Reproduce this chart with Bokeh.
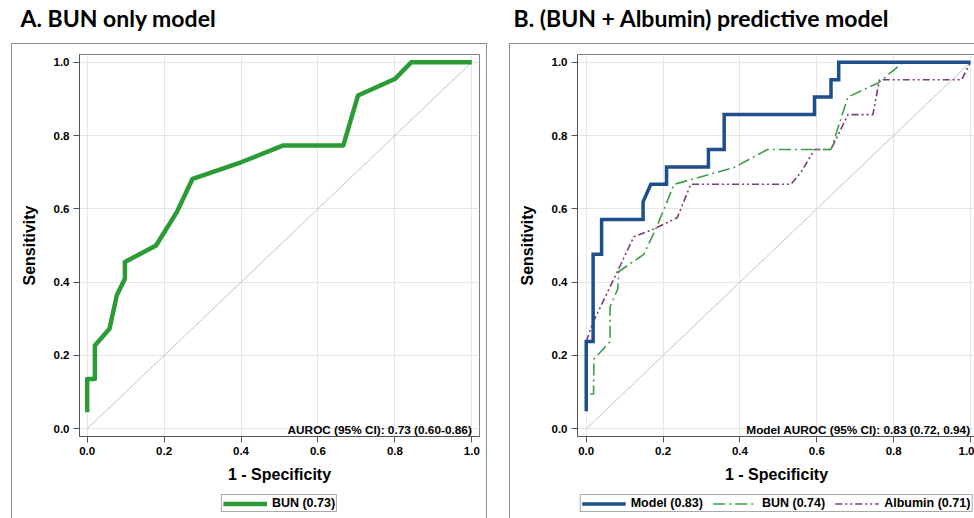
from bokeh.plotting import figure
from bokeh.models import Range1d, FixedTicker, PrintfTickFormatter, Label, Legend, LegendItem, Title
from bokeh.layouts import row, column
from bokeh.embed import file_html
from bokeh.resources import INLINE

# ---------------- data ----------------
title_a = "A. BUN only model"
title_b = "B. (BUN + Albumin) predictive model"
x_label = "1 - Specificity"
y_label = "Sensitivity"
ticks = [0.0, 0.2, 0.4, 0.6, 0.8, 1.0]
diag = [0.0, 1.0]

auroc_a = "AUROC (95% CI): 0.73 (0.60-0.86)"
auroc_b = "Model AUROC (95% CI): 0.83 (0.72, 0.94)"
legend_a = ["BUN (0.73)"]
legend_b = ["Model (0.83)", "BUN (0.74)", "Albumin (0.71)"]

# Panel A: BUN only
bun_a_fpr = [0.0, 0.0, 0.02, 0.02, 0.058, 0.077, 0.098, 0.098, 0.179, 0.233, 0.274,
             0.40, 0.51, 0.666, 0.704, 0.801, 0.843, 1.0]
bun_a_tpr = [0.045, 0.136, 0.136, 0.227, 0.273, 0.364, 0.409, 0.455, 0.50, 0.591, 0.682,
             0.727, 0.773, 0.773, 0.909, 0.955, 1.0, 1.0]

# Panel B: Model
model_fpr = [0.0, 0.0, 0.018, 0.018, 0.04, 0.04, 0.148, 0.148, 0.168, 0.209, 0.209,
             0.318, 0.318, 0.359, 0.359, 0.594, 0.594, 0.637, 0.637, 0.657, 0.657, 1.0]
model_tpr = [0.048, 0.238, 0.238, 0.476, 0.476, 0.571, 0.571, 0.619, 0.667, 0.667, 0.714,
             0.714, 0.762, 0.762, 0.857, 0.857, 0.905, 0.905, 0.952, 0.952, 1.0, 1.0]

# Panel B: BUN
bun_b_fpr = [0.01, 0.019, 0.02, 0.062, 0.062, 0.082, 0.085, 0.15, 0.181, 0.229, 0.385,
             0.472, 0.637, 0.681, 0.761, 0.825, 1.0]
bun_b_tpr = [0.095, 0.095, 0.19, 0.238, 0.333, 0.381, 0.429, 0.476, 0.545, 0.667, 0.713,
             0.762, 0.762, 0.905, 0.944, 1.0, 1.0]

# Panel B: Albumin
alb_fpr = [0.0, 0.016, 0.085, 0.124, 0.176, 0.237, 0.272, 0.533, 0.559, 0.594, 0.637,
           0.681, 0.746, 0.763, 0.977, 1.0]
alb_tpr = [0.238, 0.286, 0.438, 0.524, 0.545, 0.576, 0.667, 0.667, 0.70, 0.762, 0.762,
           0.857, 0.857, 0.952, 0.952, 1.0]

FONT = "Liberation Sans"
BORDER = "1px solid #8c8c8c"
NOBORDER = "1px solid rgba(0,0,0,0)"

STY_A = dict(line_color="#2a9b35", line_width=4.5, line_join="round")
STY_MOD = dict(line_color="#1f4e8c", line_width=3.5, line_join="miter")
STY_BUN = dict(line_color="#3aa048", line_width=1.6, line_dash="12 4 2 4")
STY_ALB = dict(line_color="#7b3b7b", line_width=1.6, line_dash="7 3 2 3 2 3")


def title_fig(text, fw, mb_left, mb_right, offset, margin, styles):
    p = figure(frame_width=fw, frame_height=12,
               x_range=Range1d(0, 1), y_range=Range1d(0, 1),
               x_axis_type=None, y_axis_type=None, toolbar_location=None,
               output_backend="svg", min_border_left=mb_left, min_border_right=mb_right,
               min_border_top=31, min_border_bottom=0, outline_line_color=None)
    p.title = Title(text=text, text_font="Lato", text_font_style="bold",
                    text_font_size="23px", text_color="#000000",
                    align="left", offset=offset, standoff=0, vertical_align="bottom")
    p.margin = margin
    p.styles = styles
    return p


def roc_fig(xr, fw, mb_left, mb_right, margin, styles):
    p = figure(frame_width=fw, frame_height=381,
               x_range=Range1d(*xr), y_range=Range1d(-0.021, 1.021),
               toolbar_location=None, output_backend="svg",
               min_border_left=mb_left, min_border_right=mb_right,
               min_border_top=10, min_border_bottom=55,
               outline_line_color="#808080", outline_line_width=1)
    p.xaxis.axis_label = x_label
    p.yaxis.axis_label = y_label
    for ax in p.axis:
        ax.ticker = FixedTicker(ticks=ticks)
        ax.formatter = PrintfTickFormatter(format="%.1f")
        ax.major_label_text_font = FONT
        ax.major_label_text_font_size = "11.5px"
        ax.major_label_text_font_style = "bold"
        ax.major_label_text_color = "#000000"
        ax.major_label_standoff = 4
        ax.major_tick_out = 6
        ax.major_tick_in = 0
        ax.minor_tick_out = 0
        ax.minor_tick_in = 0
        ax.axis_line_color = "#555555"
        ax.major_tick_line_color = "#555555"
        ax.axis_label_text_font = FONT
        ax.axis_label_text_font_size = "16px"
        ax.axis_label_text_font_style = "bold"
        ax.axis_label_text_color = "#000000"
    p.xaxis.axis_label_standoff = 8
    p.yaxis.axis_label_standoff = 13
    p.xgrid.ticker = FixedTicker(ticks=ticks)
    p.ygrid.ticker = FixedTicker(ticks=ticks)
    p.grid.grid_line_color = "#e6e6e6"
    p.grid.grid_line_width = 1
    p.line(diag, diag, line_color="#c4c4c4", line_width=1)
    p.margin = margin
    p.styles = styles
    return p


def legend_fig(fw, mb_left, mb_right, margin, styles):
    # strip below each panel that carries its legend; the key lines of the legend
    # come from the same series, which lie outside this strip's x range
    p = figure(frame_width=fw, frame_height=28,
               x_range=Range1d(2, 3), y_range=Range1d(0, 1),
               x_axis_type=None, y_axis_type=None, toolbar_location=None,
               output_backend="svg", min_border_left=mb_left, min_border_right=mb_right,
               min_border_top=0, min_border_bottom=0, outline_line_color=None)
    p.margin = margin
    p.styles = styles
    return p


def make_legend(items):
    leg = Legend(items=items)
    leg.orientation = "horizontal"
    leg.location = "top_center"
    leg.border_line_color = "#555555"
    leg.border_line_width = 1
    leg.background_fill_color = "#ffffff"
    leg.label_text_font = FONT
    leg.label_text_font_size = "12.5px"
    leg.label_text_font_style = "bold"
    leg.label_text_color = "#000000"
    leg.label_text_baseline = "middle"
    leg.glyph_width = 44
    leg.glyph_height = 13
    leg.label_height = 13
    leg.label_standoff = 5
    leg.spacing = 10
    leg.padding = 1
    leg.margin = 4
    return leg


# ---------------- panel A ----------------
ta = title_fig(title_a, 398, 67, 9, -59, (0, 8, 0, 11),
               {"border-left": NOBORDER, "border-right": NOBORDER})
pa = roc_fig((-0.02, 1.02), 398, 67, 9, (0, 8, 0, 11),
             {"border-left": BORDER, "border-top": BORDER, "border-right": BORDER})
pa.line(bun_a_fpr, bun_a_tpr, **STY_A)
pa.add_layout(Label(x=1.0, y=-0.003, text=auroc_a, text_font=FONT, text_font_size="11.8px",
                    text_font_style="bold", text_color="#000000", text_align="right",
                    text_baseline="alphabetic"))
la = legend_fig(398, 67, 9, (0, 8, 0, 11), {"border-left": BORDER, "border-right": BORDER})
ka = la.line(bun_a_fpr, bun_a_tpr, **STY_A)
la.add_layout(make_legend([LegendItem(label=legend_a[0], renderers=[ka])]), "center")

# ---------------- panel B ----------------
tb = title_fig(title_b, 397, 67, 0, -64, (0, 0, 0, 14), {"border-left": NOBORDER})
pb = roc_fig((-0.0227, 1.013), 397, 67, 0, (0, 0, 0, 14),
             {"border-left": BORDER, "border-top": BORDER})
pb.line(alb_fpr, alb_tpr, **STY_ALB)
pb.line(bun_b_fpr, bun_b_tpr, **STY_BUN)
pb.line(model_fpr, model_tpr, **STY_MOD)
pb.add_layout(Label(x=1.0, y=-0.003, text=auroc_b, text_font=FONT, text_font_size="11.8px",
                    text_font_style="bold", text_color="#000000", text_align="right",
                    text_baseline="alphabetic"))
lb = legend_fig(397, 67, 0, (0, 0, 0, 14), {"border-left": BORDER})
kb_mod = lb.line(model_fpr, model_tpr, **STY_MOD)
kb_bun = lb.line(bun_b_fpr, bun_b_tpr, **STY_BUN)
kb_alb = lb.line(alb_fpr, alb_tpr, **STY_ALB)
lb.add_layout(make_legend([LegendItem(label=legend_b[0], renderers=[kb_mod]),
                           LegendItem(label=legend_b[1], renderers=[kb_bun]),
                           LegendItem(label=legend_b[2], renderers=[kb_alb])]), "center")

layout = row(column(ta, pa, la), column(tb, pb, lb))

open("out.html", "w").write(file_html(layout, INLINE))
